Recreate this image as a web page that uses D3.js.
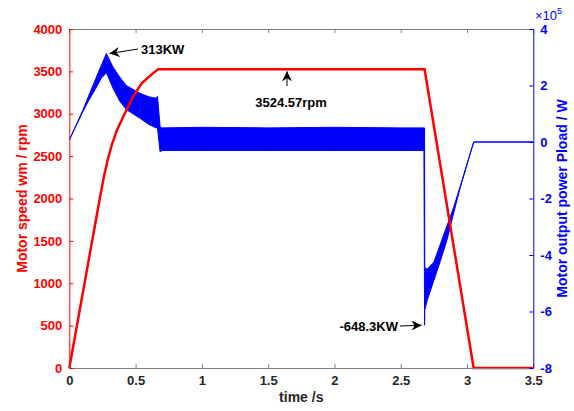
<!DOCTYPE html>
<html>
<head>
<meta charset="utf-8">
<script src="https://cdn.jsdelivr.net/npm/d3@7"></script>
<style>
  body { margin: 0; background: #fff; }
  text { font-family: "Liberation Sans", Arial, Helvetica, sans-serif; font-weight: bold; }
</style>
</head>
<body>
<script>
// Motor speed (rpm)
const speedTime = [0, 0.23, 0.26, 0.29, 0.32, 0.36, 0.42, 0.48, 0.546, 0.61, 0.67, 2.68, 3.05, 3.5];
const speedVal  = [0, 2000, 2250, 2460, 2630, 2810, 3009, 3200, 3359, 3450, 3524.57, 3524.57, 0, 0];

// Motor output power envelope (x1e5 W): upper / lower edge of the blue band
const powerTime  = [0, 0.10, 0.15, 0.20, 0.24, 0.28, 0.33, 0.38, 0.43, 0.53, 0.60, 0.655, 0.665, 0.685, 0.70, 1.0, 1.5, 2.0, 2.5, 2.675, 2.68, 2.681, 2.70, 2.75, 2.80, 2.85, 2.90, 2.95, 3.05, 3.5];
const powerUpper = [0.07, 1.1, 1.68, 2.25, 2.7, 3.13, 2.65, 2.3, 2.0, 1.73, 1.6, 1.55, 1.62, 0.55, 0.5, 0.52, 0.5, 0.52, 0.5, 0.5, 0.5, -4.45, -4.5, -4.25, -3.6, -2.95, -2.3, -1.55, 0, 0];
const powerLower = [0.07, 1.05, 1.5, 1.9, 2.25, 2.45, 1.9, 1.45, 1.15, 0.85, 0.62, 0.5, 0.5, -0.35, -0.3, -0.3, -0.3, -0.3, -0.3, -0.3, -6.483, -5.95, -5.6, -4.9, -4.2, -3.45, -2.5, -1.6, 0, 0];

const xTicks = [0, 0.5, 1, 1.5, 2, 2.5, 3, 3.5];
const speedTicks = [0, 500, 1000, 1500, 2000, 2500, 3000, 3500, 4000];
const powerTicks = [-8, -6, -4, -2, 0, 2, 4];

let width = 574, height = 411;
let margin = { top: 29, bottom: 43, left: 69.3, right: 40.7 };
const red = '#ff0000', blue = '#0000ff', grey = '#262626';

let svg = d3.select('body').append('svg')
    .attr('width', width)
    .attr('height', height);

let xScale = d3.scaleLinear().domain([0, 3.5]).range([margin.left, width - margin.right]);
let yLeft = d3.scaleLinear().domain([0, 4000]).range([height - margin.bottom, margin.top]);
let yRight = d3.scaleLinear().domain([-8, 4]).range([height - margin.bottom, margin.top]);

// Power band
let powerData = powerTime.map((t, i) => ({ t: t, hi: powerUpper[i], lo: powerLower[i] }));
svg.append('path')
    .datum(powerData)
    .attr('d', d3.area().x(d => xScale(d.t)).y0(d => yRight(d.lo)).y1(d => yRight(d.hi)))
    .attr('fill', blue)
    .attr('stroke', blue)
    .attr('stroke-width', 1);

// Speed line
let speedData = speedTime.map((t, i) => ({ t: t, v: speedVal[i] }));
svg.append('path')
    .datum(speedData)
    .attr('d', d3.line().x(d => xScale(d.t)).y(d => yLeft(d.v)))
    .attr('fill', 'none')
    .attr('stroke', red)
    .attr('stroke-width', 2.5);

// Axes (MATLAB style, ticks inside)
function styleAxis(g, color, textColor) {
  g.select('.domain').attr('stroke', color);
  g.selectAll('.tick line').attr('stroke', color);
  g.selectAll('.tick text').attr('fill', textColor).style('font-size', '13px');
}

let xAxis = svg.append('g')
    .attr('transform', `translate(0, ${height - margin.bottom})`)
    .call(d3.axisBottom(xScale).tickValues(xTicks).tickFormat(d3.format('')).tickSizeInner(-4).tickSizeOuter(0).tickPadding(8));
styleAxis(xAxis, '#808080', grey);

let xTop = svg.append('g')
    .attr('transform', `translate(0, ${margin.top})`)
    .call(d3.axisTop(xScale).tickValues(xTicks).tickFormat('').tickSizeInner(-4).tickSizeOuter(0));
styleAxis(xTop, '#808080', grey);

let leftAxis = svg.append('g')
    .attr('transform', `translate(${margin.left}, 0)`)
    .call(d3.axisLeft(yLeft).tickValues(speedTicks).tickFormat(d3.format('d')).tickSizeInner(-4).tickSizeOuter(0).tickPadding(7));
styleAxis(leftAxis, red, red);

let rightAxis = svg.append('g')
    .attr('transform', `translate(${width - margin.right}, 0)`)
    .call(d3.axisRight(yRight).tickValues(powerTicks).tickFormat(d3.format('d')).tickSizeInner(-4).tickSizeOuter(0).tickPadding(7));
styleAxis(rightAxis, blue, blue);
rightAxis.selectAll('.tick text').text(d => d < 0 ? '-' + Math.abs(d) : d);

// Exponent label
let expo = svg.append('text').attr('x', 535).attr('y', 20).attr('fill', blue).style('font-size', '13px').style('font-weight', 'normal');
expo.append('tspan').text('×10');
expo.append('tspan').attr('dy', -6).style('font-size', '9px').text('5');

// Axis titles
svg.append('text')
    .attr('x', (margin.left + width - margin.right) / 2)
    .attr('y', 402)
    .attr('text-anchor', 'middle')
    .attr('fill', grey)
    .style('font-size', '14px')
    .text('time /s');

svg.append('text')
    .attr('transform', `translate(27, ${(margin.top + height - margin.bottom) / 2}) rotate(-90)`)
    .attr('text-anchor', 'middle')
    .attr('fill', red)
    .style('font-size', '14px')
    .text('Motor speed wm / rpm');

svg.append('text')
    .attr('transform', `translate(567, ${(margin.top + height - margin.bottom) / 2}) rotate(-90)`)
    .attr('text-anchor', 'middle')
    .attr('fill', blue)
    .style('font-size', '14px')
    .text('Motor output power Pload / W');

// Annotations
svg.append('defs').append('marker')
    .attr('id', 'head')
    .attr('viewBox', '0 0 10 10')
    .attr('refX', 10).attr('refY', 5)
    .attr('markerWidth', 10).attr('markerHeight', 10)
    .attr('markerUnits', 'userSpaceOnUse')
    .attr('orient', 'auto')
    .append('path')
    .attr('d', 'M0,0 L10,5 L0,10 L3,5 Z')
    .attr('fill', '#000');

function arrow(x1, y1, x2, y2) {
  svg.append('line')
      .attr('x1', x1).attr('y1', y1).attr('x2', x2).attr('y2', y2)
      .attr('stroke', '#000').attr('stroke-width', 1)
      .attr('marker-end', 'url(#head)');
}

const peakT = 0.28, peakP = 3.13;
arrow(138, 49, xScale(peakT) + 3, yRight(peakP));
svg.append('text').attr('x', 141).attr('y', 54).attr('fill', '#000').style('font-size', '13px').text('313KW');

arrow(287, 86, 287, yLeft(3524.57) + 2);
svg.append('text').attr('x', 291).attr('y', 107).attr('text-anchor', 'middle').attr('fill', '#000').style('font-size', '13px').text('3524.57rpm');

arrow(400, 326, xScale(2.68) - 3, yRight(-6.483));
svg.append('text').attr('x', 398).attr('y', 331).attr('text-anchor', 'end').attr('fill', '#000').style('font-size', '13px').text('-648.3KW');
</script>
</body>
</html>
